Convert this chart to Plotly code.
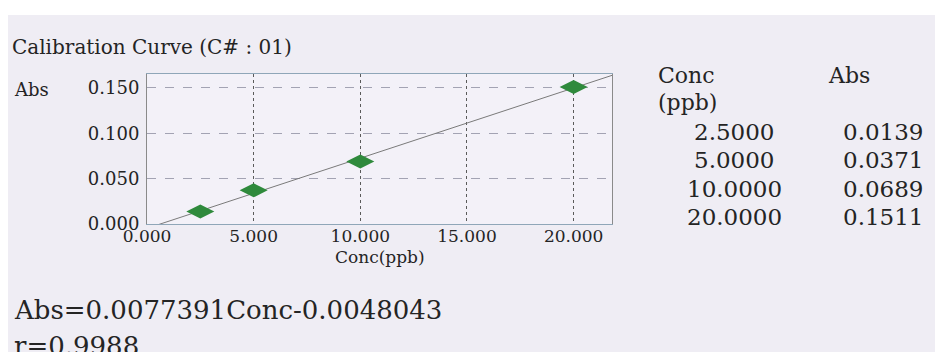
import plotly.graph_objects as go

# ---- data ----
conc_ppb = [2.5, 5.0, 10.0, 20.0]
absorbance = [0.0139, 0.0371, 0.0689, 0.1511]
slope = 0.0077391
intercept = -0.0048043
r_value = 0.9988
x_ticks = [0, 5, 10, 15, 20]
y_ticks = [0.0, 0.05, 0.10, 0.15]
x_range = [0, 21.8]
y_range = [0, 0.1654]

# page places the figure 8px from the top-left corner (body margin)
OFF = 8
W, H = 943 - 2 * OFF, 352 - OFF
L, R, T, B = 147, 612, 74, 224  # plot area in screen px
FONT = "DejaVu Serif"
TXT = "#242424"


def px(x):
    return (x - L) / (R - L)


def py(y):
    return (B - y) / (B - T)


fig = go.Figure()

# regression line across the axis range
lx = list(x_range)
ly = [slope * v + intercept for v in lx]
fig.add_trace(go.Scatter(x=lx, y=ly, mode="lines",
                         line=dict(color="#7a7a7a", width=1),
                         hoverinfo="skip", showlegend=False))

# calibration points
fig.add_trace(go.Scatter(x=conc_ppb, y=absorbance, mode="markers",
                         marker=dict(symbol="diamond-wide", size=20,
                                     color="#2f8a3c",
                                     line=dict(width=0)),
                         showlegend=False))

ann = []
ann.append(dict(text="Calibration Curve (C# : 01)", x=px(10), y=py(47),
                xanchor="left", yanchor="middle",
                font=dict(family=FONT, size=20, color=TXT)))
ann.append(dict(text="Abs", x=px(12), y=py(89), xanchor="left", yanchor="middle",
                font=dict(family=FONT, size=18, color=TXT)))
ann.append(dict(text="Conc(ppb)", x=px((L + R) / 2), y=py(257),
                xanchor="center", yanchor="middle",
                font=dict(family=FONT, size=17, color=TXT)))

# table on the right
ann.append(dict(text="Conc", x=px(656), y=py(75), xanchor="left", yanchor="middle",
                font=dict(family=FONT, size=22, color=TXT)))
ann.append(dict(text="Abs", x=px(826), y=py(75), xanchor="left", yanchor="middle",
                font=dict(family=FONT, size=22, color=TXT)))
ann.append(dict(text="(ppb)", x=px(656), y=py(102), xanchor="left", yanchor="middle",
                font=dict(family=FONT, size=22, color=TXT)))
row_y = [132, 160, 189, 217]
for c, a, yy in zip(conc_ppb, absorbance, row_y):
    ann.append(dict(text=f"{c:.4f}", x=px(734), y=py(yy), xanchor="center",
                    yanchor="middle", font=dict(family=FONT, size=23, color=TXT)))
    ann.append(dict(text=f"{a:.4f}", x=px(883), y=py(yy), xanchor="center",
                    yanchor="middle", font=dict(family=FONT, size=23, color=TXT)))

ann.append(dict(text=f"Abs={slope:.7f}Conc{intercept:.7f}", x=px(12), y=py(310),
                xanchor="left", yanchor="middle",
                font=dict(family=FONT, size=26, color=TXT)))
ann.append(dict(text=f"r={r_value:.4f}", x=px(12), y=py(346),
                xanchor="left", yanchor="middle",
                font=dict(family=FONT, size=26, color=TXT)))

for a in ann:
    a.update(xref="paper", yref="paper", showarrow=False)

shapes = [
    # white strip at top of scan
    dict(type="rect", xref="paper", yref="paper", x0=px(0), x1=px(960),
         y0=py(15), y1=py(0), fillcolor="white", line=dict(width=0), layer="below"),
]

fig.update_layout(
    width=W, height=H,
    margin=dict(l=L - OFF, r=(W + OFF) - R, t=T - OFF, b=(H + OFF) - B, pad=0),
    paper_bgcolor="#efedf4",
    plot_bgcolor="#f3f1f8",
    annotations=ann,
    shapes=shapes,
    xaxis=dict(range=x_range, tickvals=x_ticks,
               ticktext=[f"{v:.3f}" for v in x_ticks],
               showgrid=True, gridcolor="#5a5a5a", griddash="dot", gridwidth=1,
               zeroline=False, showline=True, linecolor="#8fa6b8", mirror=True,
               linewidth=1, ticks="", ticklabelstandoff=-3,
               tickfont=dict(family=FONT, size=17, color=TXT)),
    yaxis=dict(range=y_range, tickvals=y_ticks,
               ticktext=[f"{v:.3f}" for v in y_ticks],
               showgrid=True, gridcolor="#a3a3b3", griddash="dash", gridwidth=1,
               zeroline=False, showline=True, linecolor="#8a8a8a", mirror=True,
               linewidth=1, ticks="outside", ticklen=3, tickcolor="rgba(0,0,0,0)",
               tickfont=dict(family=FONT, size=18, color=TXT)),
)

fig.write_html("out.html")
